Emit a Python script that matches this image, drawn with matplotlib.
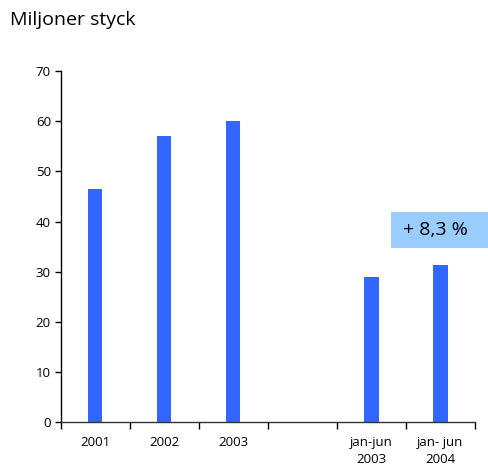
import numpy as np
import matplotlib.pyplot as plt
from matplotlib.patches import Rectangle

# Data
categories = ['2001', '2002', '2003', '', 'jan-jun\n2003', 'jan- jun\n2004']
values = [46.5, 57, 60, np.nan, 29, 31.3]
change_label = '+ 8,3 %'

BAR_COLOR = '#3366FF'
BOX_COLOR = '#99CCFF'

plt.rcParams['font.family'] = ['Open Sans', 'DejaVu Sans']

fig = plt.figure(figsize=(4.89, 4.68), dpi=100)
ax = fig.add_axes([0.124, 0.098, 0.847, 0.75])

x = np.arange(len(categories))
ax.bar(x, values, width=0.21, color=BAR_COLOR, zorder=2)

ax.set_xlim(-0.5, len(categories) - 0.5)
ax.set_ylim(0, 70)
ax.set_yticks(range(0, 71, 10))

# tick marks between categories, labels centred under them
ax.set_xticks(np.arange(-0.5, len(categories), 1.0))
ax.set_xticklabels([])
ax.set_xticks(x, minor=True)
ax.set_xticklabels(categories, minor=True, linespacing=1.35)
ax.tick_params(axis='x', which='major', direction='out', length=5, width=1)
ax.tick_params(axis='x', which='minor', length=0, pad=10, labelsize=9.5)
ax.tick_params(axis='y', direction='out', length=4, width=1, pad=3, labelsize=9.5)

for s in ['top', 'right']:
    ax.spines[s].set_visible(False)
ax.spines['left'].set_linewidth(1)
ax.spines['bottom'].set_linewidth(1)
ax.spines['bottom'].set_color('#333333')

# change annotation box
ax.add_patch(Rectangle((4.29, 34.8), 1.41, 7.2, facecolor=BOX_COLOR,
                       edgecolor='none', clip_on=False, zorder=3))
ax.text(4.46, 38.4, change_label, fontsize=14, va='center', ha='left', zorder=4)

fig.text(0.02, 0.957, 'Miljoner styck', fontsize=14, va='center', ha='left')

fig.savefig('out.png', dpi=100)
